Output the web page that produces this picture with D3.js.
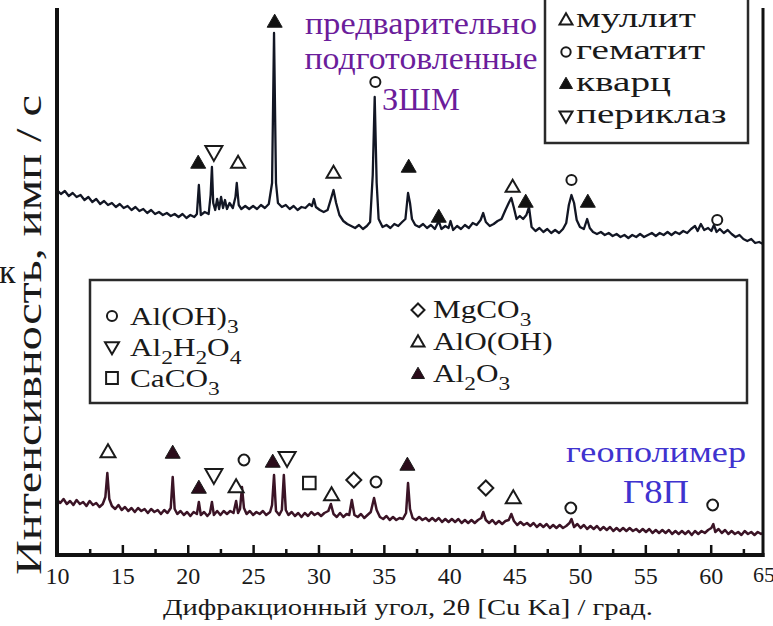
<!DOCTYPE html>
<html>
<head>
<meta charset="utf-8">
<script src="https://cdn.jsdelivr.net/npm/d3@7"></script>
</head>
<body style="margin:0">
<svg id="xrd" width="773" height="626"></svg>
<script>
// upper scan: pre-treated ash-slag (2θ, counts)
const zshmTrace = [
  [10.0,365],[10.3,361],[10.6,364],[10.9,359],[11.2,362],[11.5,358],[11.8,360],[12.1,355],[12.4,358],[12.7,353],
  [13.0,356],[13.3,351],[13.6,354],[13.9,350],[14.2,352],[14.5,348],[14.8,351],[15.1,347],[15.4,349],[15.7,345],
  [16.0,348],[16.3,344],[16.6,346],[16.9,342],[17.2,345],[17.5,341],[17.8,343],[18.1,340],[18.4,342],[18.7,339],
  [19.0,341],[19.3,338],[19.6,341],[19.9,337],[20.2,340],[20.5,338],[20.7,341],[20.85,370],[21.0,340],[21.3,343],
  [21.6,341],[21.75,360],[21.85,388],[21.95,352],[22.1,345],[22.25,356],[22.4,346],[22.55,358],[22.7,347],[22.85,355],
  [23.0,346],[23.2,352],[23.45,347],[23.65,358],[23.75,372],[23.9,350],[24.1,346],[24.4,349],[24.7,346],[25.0,349],
  [25.3,346],[25.6,350],[25.9,347],[26.2,351],[26.45,372],[26.6,522],[26.75,372],[26.9,352],[27.2,348],[27.5,350],
  [27.8,346],[28.1,349],[28.4,345],[28.7,348],[29.0,347],[29.3,351],[29.5,349],[29.65,356],[29.8,348],[30.1,345],
  [30.4,343],[30.7,345],[30.95,356],[31.15,365],[31.35,352],[31.6,340],[31.9,334],[32.2,331],[32.5,329],[32.8,327],
  [33.1,330],[33.4,326],[33.7,329],[33.95,333],[34.15,380],[34.3,458],[34.45,372],[34.6,336],[34.9,328],[35.2,330],
  [35.5,327],[35.8,331],[36.1,329],[36.4,333],[36.65,336],[36.85,362],[37.0,352],[37.15,336],[37.4,330],[37.7,328],
  [38.0,331],[38.3,327],[38.6,330],[38.9,326],[39.2,334],[39.4,326],[39.7,329],[39.95,327],[40.1,334],[40.3,325],
  [40.6,329],[40.9,326],[41.2,330],[41.5,327],[41.8,332],[42.1,330],[42.4,335],[42.6,342],[42.8,333],[43.1,329],
  [43.4,331],[43.7,334],[44.0,336],[44.3,345],[44.55,352],[44.75,357],[44.95,347],[45.15,336],[45.4,339],[45.65,336],
  [45.9,340],[46.1,348],[46.3,328],[46.6,324],[46.9,327],[47.2,323],[47.5,326],[47.8,322],[48.1,325],[48.4,322],
  [48.7,326],[48.95,332],[49.15,350],[49.35,360],[49.55,352],[49.75,335],[50.0,328],[50.3,326],[50.55,336],[50.75,327],
  [51.0,323],[51.3,321],[51.6,323],[51.9,320],[52.2,322],[52.5,319],[52.8,321],[53.1,318],[53.4,320],[53.7,317],
  [54.0,320],[54.3,318],[54.6,321],[54.9,318],[55.2,320],[55.5,322],[55.8,319],[56.1,322],[56.4,320],[56.7,323],
  [57.0,320],[57.3,323],[57.6,321],[57.9,324],[58.2,322],[58.5,326],[58.8,329],[59.0,324],[59.25,331],[59.5,325],
  [59.8,327],[60.05,324],[60.25,330],[60.45,323],[60.7,326],[61.0,322],[61.3,325],[61.6,321],[61.9,318],[62.2,320],
  [62.5,316],[62.8,314],[63.1,316],[63.4,312],[63.7,313],[64.0,311]
];

// lower scan: geopolymer G8P
const g8pTrace = [
  [10.0,55],[10.25,52],[10.5,56],[10.75,51],[11.0,54],[11.25,50],[11.5,55],[11.75,51],[12.0,53],[12.25,49],
  [12.5,54],[12.75,50],[13.0,52],[13.25,48],[13.5,51],[13.7,58],[13.85,82],[14.0,56],[14.2,49],[14.45,46],
  [14.7,50],[14.95,45],[15.2,48],[15.45,44],[15.7,47],[15.95,43],[16.2,47],[16.45,44],[16.7,46],[16.95,42],
  [17.2,46],[17.45,43],[17.7,45],[17.95,41],[18.2,45],[18.45,42],[18.7,47],[18.85,78],[19.0,46],[19.2,41],
  [19.45,44],[19.7,40],[19.95,43],[20.2,39],[20.45,43],[20.7,41],[20.85,53],[21.0,40],[21.25,43],[21.5,39],
  [21.7,42],[21.85,53],[22.0,40],[22.25,44],[22.5,40],[22.75,44],[23.0,41],[23.25,44],[23.5,42],[23.7,54],
  [23.85,42],[24.0,46],[24.15,68],[24.3,47],[24.5,41],[24.75,44],[25.0,40],[25.25,43],[25.5,41],[25.75,44],
  [26.0,40],[26.3,43],[26.45,50],[26.6,80],[26.75,44],[27.0,40],[27.2,45],[27.35,80],[27.5,45],[27.7,40],
  [27.95,43],[28.2,39],[28.45,42],[28.7,38],[28.95,42],[29.2,39],[29.45,43],[29.7,40],[29.95,42],[30.2,39],
  [30.45,42],[30.75,44],[30.95,51],[31.15,41],[31.4,38],[31.65,42],[31.9,38],[32.15,41],[32.35,40],[32.55,55],
  [32.75,40],[33.0,38],[33.25,41],[33.5,37],[33.75,40],[34.0,43],[34.25,57],[34.45,45],[34.7,38],[34.95,36],
  [35.2,39],[35.45,35],[35.7,38],[35.95,35],[36.2,37],[36.45,36],[36.7,42],[36.85,72],[37.0,46],[37.2,37],
  [37.45,35],[37.7,38],[37.95,35],[38.2,37],[38.45,34],[38.7,37],[38.95,34],[39.2,37],[39.45,33],[39.7,36],
  [39.95,33],[40.2,36],[40.45,33],[40.7,36],[40.95,32],[41.2,35],[41.45,32],[41.7,35],[41.95,32],[42.2,35],
  [42.45,37],[42.6,43],[42.8,35],[43.05,32],[43.3,35],[43.55,31],[43.8,34],[44.05,31],[44.3,34],[44.55,35],
  [44.75,41],[44.95,34],[45.2,30],[45.45,33],[45.7,30],[45.95,32],[46.2,29],[46.45,32],[46.7,28],[46.95,31],
  [47.2,28],[47.45,31],[47.7,27],[47.95,30],[48.2,27],[48.45,30],[48.7,27],[48.95,29],[49.2,32],[49.35,36],
  [49.55,28],[49.8,31],[50.05,27],[50.3,30],[50.55,26],[50.8,29],[51.05,26],[51.3,29],[51.55,25],[51.8,28],
  [52.05,25],[52.3,28],[52.55,24],[52.8,27],[53.05,24],[53.3,27],[53.55,24],[53.8,27],[54.05,24],[54.3,26],
  [54.55,23],[54.8,26],[55.05,23],[55.3,26],[55.55,22],[55.8,25],[56.05,22],[56.3,25],[56.55,22],[56.8,25],
  [57.05,21],[57.3,24],[57.55,21],[57.8,24],[58.05,21],[58.3,24],[58.55,20],[58.8,24],[59.05,21],[59.3,24],
  [59.55,22],[59.8,25],[60.05,27],[60.2,31],[60.35,23],[60.6,26],[60.85,22],[61.1,25],[61.35,21],[61.6,24],
  [61.85,21],[62.1,23],[62.35,20],[62.6,24],[62.85,21],[63.1,23],[63.35,20],[63.6,23],[63.85,21],[64.0,22]
];

// phase marks above the peaks: [2θ, level, shape]
const zshmMarks = [
  [20.8,392,"triFill"],[22.0,403,"triDown"],[23.85,392,"tri"],[26.65,533,"triFill"],[31.15,382,"tri"],
  [34.35,473,"circ"],[36.9,388,"triFill"],[39.2,338,"triFill"],[44.85,368,"tri"],[45.85,353,"triFill"],
  [49.35,375,"circ"],[50.6,353,"triFill"],[60.5,335,"circ"]
];
const g8pMarks = [
  [13.9,103,"tri"],[18.85,102,"triFill"],[20.85,67,"triFill"],[22.0,80,"triDown"],[23.7,68,"tri"],
  [24.3,95,"circ"],[26.5,93,"triFill"],[27.6,97,"triDown"],[29.3,72,"sq"],[31.0,60,"tri"],
  [32.7,75,"dia"],[34.4,73,"circ"],[36.8,90,"triFill"],[42.8,67,"dia"],[44.9,57,"tri"],
  [49.3,47,"circ"],[60.15,50,"circ"]
];

const topLegend = [["tri","муллит"],["circ","гематит"],["triFill","кварц"],["triDown","периклаз"]];
const g8pLegendLeft = [["circ","Al(OH)_3"],["triDown","Al_2H_2O_4"],["sq","CaCO_3"]];
const g8pLegendRight = [["dia","MgCO_3"],["tri","AlO(OH)"],["triFill","Al_2O_3"]];

const majorTicks = [10,15,20,25,30,35,40,45,50,55,60];
const minorTicks = [12.5,17.5,22.5,27.5,32.5,37.5,42.5,47.5,52.5,57.5,62.5];

const serif = '"Liberation Serif"';
const ink = "#1a1a1a";

const svg = d3.select("#xrd");

const x = d3.scaleLinear().domain([10, 64]).range([57, 763]);
const y = d3.scaleLinear().domain([0, 547]).range([555, 8]);

// plain text helper
function label(g, px, py, str, size, color) {
    return g.append("text").attr("x", px).attr("y", py)
        .attr("font-size", size).attr("fill", color || ink)
        .style("font-family", serif).text(str);
}

// marker shapes, s = width in px
function shape(type, s) {
    const h = s * 0.87;
    if (type == "tri" || type == "triFill")
        return `M0,${-h * 0.6}L${s / 2},${h * 0.4}L${-s / 2},${h * 0.4}Z`;
    if (type == "triDown")
        return `M0,${h * 0.6}L${s / 2},${-h * 0.4}L${-s / 2},${-h * 0.4}Z`;
    if (type == "circ") {
        const r = s * 0.36;
        return `M${r},0A${r},${r} 0 1,1 ${-r},0A${r},${r} 0 1,1 ${r},0Z`;
    }
    if (type == "sq") {
        const a = s * 0.42;
        return `M${-a},${-a}H${a}V${a}H${-a}Z`;
    }
    const d = s * 0.5; // diamond
    return `M0,${-d}L${d},0L0,${d}L${-d},0Z`;
}
function drawMark(g, type, cx, cy, s, fillColor) {
    g.append("path")
        .attr("transform", `translate(${cx},${cy})`)
        .attr("d", shape(type, s))
        .attr("fill", type == "triFill" ? fillColor : "#fff")
        .attr("stroke", ink)
        .attr("stroke-width", type == "triFill" ? 1 : 2);
}

// legend boxes
svg.append("rect")
    .attr("x", 545).attr("y", -6).attr("width", 203).attr("height", 149)
    .attr("fill", "#fff").attr("stroke", "#2a2a2a").attr("stroke-width", 2.5);
svg.append("rect")
    .attr("x", 90).attr("y", 280).attr("width", 657).attr("height", 123)
    .attr("fill", "#fff").attr("stroke", "#2a2a2a").attr("stroke-width", 2.5);

// traces
const line = d3.line().x(d => x(d[0])).y(d => y(d[1]));
svg.append("path").datum(zshmTrace)
    .attr("d", line).attr("fill", "none")
    .attr("stroke", "#121624").attr("stroke-width", 2.3).attr("stroke-linejoin", "round");
svg.append("path").datum(g8pTrace)
    .attr("d", line).attr("fill", "none")
    .attr("stroke", "#3b1426").attr("stroke-width", 2.5).attr("stroke-linejoin", "round");

const marks = svg.append("g");
zshmMarks.forEach(m => drawMark(marks, m[2], x(m[0]), y(m[1]),
    m[2] == "triDown" ? 17 : (m[2] == "triFill" ? 15 : 14), "#111"));
g8pMarks.forEach(m => drawMark(marks, m[2], x(m[0]), y(m[1]),
    m[2] == "triDown" ? 17 : 15, "#2a0c1a"));

// frame (top edge is cut off in the scan)
const frame = svg.append("g").attr("stroke", "#111").attr("fill", "none");
frame.append("line").attr("x1", x.range()[0]).attr("x2", x.range()[0])
    .attr("y1", y.range()[1]).attr("y2", y.range()[0] + 2).attr("stroke-width", 4);
frame.append("line").attr("x1", x.range()[1]).attr("x2", x.range()[1])
    .attr("y1", y.range()[1]).attr("y2", y.range()[0] + 2).attr("stroke-width", 3);
frame.append("line").attr("x1", x.range()[0] - 2).attr("x2", x.range()[1] + 1.5)
    .attr("y1", y.range()[0]).attr("y2", y.range()[0]).attr("stroke-width", 4);

// x axis: inward ticks every 2.5 degrees
const axisMinor = svg.append("g").attr("transform", `translate(0,${y.range()[0]})`)
    .call(d3.axisBottom(x).tickValues(minorTicks).tickSize(-6).tickFormat(""));
const axisMajor = svg.append("g").attr("transform", `translate(0,${y.range()[0]})`)
    .call(d3.axisBottom(x).tickValues(majorTicks).tickSize(-10).tickPadding(12).tickFormat(d3.format("d")));
[axisMinor, axisMajor].forEach(a => {
    a.select(".domain").remove();
    a.selectAll(".tick line").attr("stroke", "#111").attr("stroke-width", 2.5);
});
axisMajor.selectAll(".tick text")
    .attr("fill", ink).attr("font-size", 24).style("font-family", serif);
label(svg, x.range()[1] + 1, 582, "65", 22).attr("text-anchor", "middle");

// axis titles
label(svg, 408, 615, "Дифракционный угол, 2θ [Cu Ka] / град.", 24)
    .attr("text-anchor", "middle")
    .attr("textLength", 490).attr("lengthAdjust", "spacingAndGlyphs");
label(svg, 0, 0, "Интенсивность, имп / с", 35)
    .attr("transform", "translate(41,335) rotate(-90)").attr("text-anchor", "middle")
    .attr("textLength", 480).attr("lengthAdjust", "spacingAndGlyphs");
label(svg, -1, 283, "к", 34);

// sample captions
const purple = "#6b1d9b", blue = "#3f33cf";
[["предварительно", 34, 232], ["подготовленные", 69, 233], ["ЗШМ", 110, 78]].forEach(t => {
    label(svg, 421, t[1], t[0], 32, purple).attr("text-anchor", "middle")
        .attr("textLength", t[2]).attr("lengthAdjust", "spacingAndGlyphs");
});
[["геополимер", 462, 180, 30], ["Г8П", 503, 66, 33]].forEach(t => {
    label(svg, 656, t[1], t[0], t[3], blue).attr("text-anchor", "middle")
        .attr("textLength", t[2]).attr("lengthAdjust", "spacingAndGlyphs");
});

// legend of the upper scan
topLegend.forEach((d, i) => {
    const by = 27 + i * 32;
    drawMark(svg, d[0], 566, by - 7, 13, "#111");
    label(svg.append("g").attr("transform", `translate(576,${by}) scale(1.4,1)`), 0, 0, d[1], 28);
});

// legend of the geopolymer scan, "_" marks a one-digit subscript
function chem(g, str, size) {
    const t = label(g, 0, 0, "", size);
    let sub = false;
    str.split(/(_\d)/).filter(s => s.length).forEach(part => {
        if (part[0] == "_") {
            t.append("tspan").attr("dy", size * 0.3).attr("font-size", size * 0.75).text(part[1]);
            sub = true;
        } else {
            t.append("tspan").attr("dy", sub ? -size * 0.3 : 0).text(part);
            sub = false;
        }
    });
}
g8pLegendLeft.forEach((d, i) => {
    const by = 325 + i * 31;
    drawMark(svg, d[0], 112, by - 9, 14, "#2a0c1a");
    chem(svg.append("g").attr("transform", `translate(130,${by}) scale(1.2,1)`), d[1], 26);
});
g8pLegendRight.forEach((d, i) => {
    const by = 318 + i * 32;
    drawMark(svg, d[0], 418, by - 8, 13, "#2a0c1a");
    chem(svg.append("g").attr("transform", `translate(433,${by}) scale(1.2,1)`), d[1], 26);
});
</script>
</body>
</html>
